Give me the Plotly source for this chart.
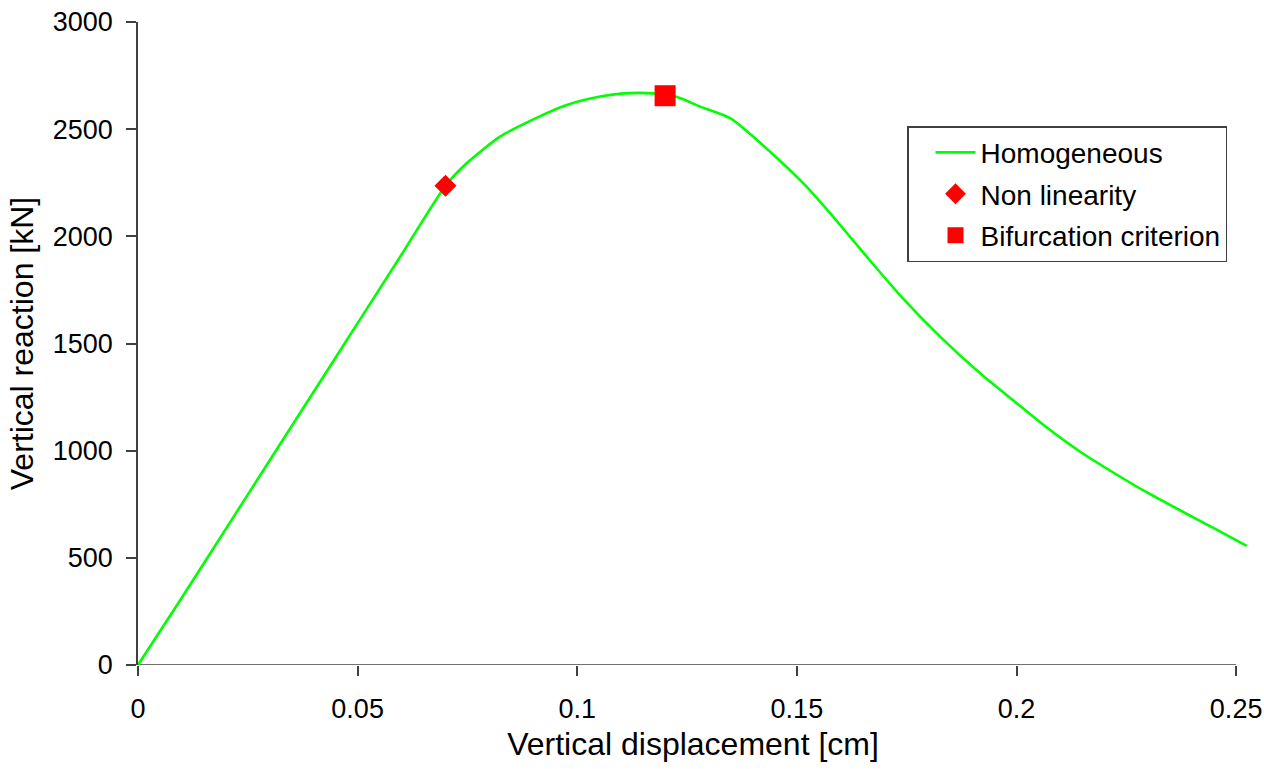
import plotly.graph_objects as go

# Homogeneous curve (vertical displacement [cm] vs vertical reaction [kN])
disp = [0.0, 0.01, 0.02, 0.03, 0.04, 0.05, 0.06, 0.07, 0.0748, 0.0824, 0.090,
        0.0976, 0.1052, 0.1105, 0.1173, 0.1227, 0.128, 0.1348, 0.1439, 0.1522,
        0.1576, 0.1659, 0.1735, 0.1826, 0.1917, 0.1993, 0.2069, 0.2145, 0.2221,
        0.2297, 0.2372, 0.2448, 0.2524]
reaction = [0, 315, 635, 955, 1275, 1595, 1915, 2236, 2341, 2465, 2546,
            2613, 2652, 2667, 2667, 2650, 2605, 2551, 2395, 2232,
            2107, 1905, 1725, 1532, 1361, 1234, 1108, 995, 897,
            805, 722, 640, 556]

# Special points
nonlin_x = [0.07]
nonlin_y = [2236]
bif_x = [0.12]
bif_y = [2656]

x_ticks = [0, 0.05, 0.1, 0.15, 0.2, 0.25]
x_ticktext = ["0", "0.05", "0.1", "0.15", "0.2", "0.25"]
y_ticks = [0, 500, 1000, 1500, 2000, 2500, 3000]
y_ticktext = ["0", "500", "1000", "1500", "2000", "2500", "3000"]

FONT = "Liberation Sans, Arial, sans-serif"
AXC = "#404040"

fig = go.Figure()
fig.add_trace(go.Scatter(x=disp, y=reaction, mode="lines", name="Homogeneous",
                         line=dict(color="#00FF00", width=2.6, shape="spline", smoothing=0.6),
                         legendgroup="a"))
fig.add_trace(go.Scatter(x=nonlin_x, y=nonlin_y, mode="markers", name="Non linearity",
                         marker=dict(symbol="diamond", color="#FF0000", size=17),
                         legendgroup="b", cliponaxis=False))
fig.add_trace(go.Scatter(x=bif_x, y=bif_y, mode="markers", name="Bifurcation criterion",
                         marker=dict(symbol="square", color="#FF0000", size=21),
                         legendgroup="c", cliponaxis=False))

# x-axis baseline ending at the last tick
fig.add_shape(type="line", xref="x", yref="y", x0=x_ticks[0], x1=x_ticks[-1],
              y0=y_ticks[0], y1=y_ticks[0], line=dict(color=AXC, width=1.5), layer="below")

fig.update_layout(
    width=1264, height=769,
    margin=dict(l=138, r=16, t=22, b=104, autoexpand=False),
    paper_bgcolor="white", plot_bgcolor="white",
    font=dict(family=FONT, size=27, color="black"),
    legend=dict(x=0.6928, y=0.838, xanchor="left", yanchor="top",
                bordercolor=AXC, borderwidth=1.5, bgcolor="white",
                font=dict(size=28), tracegroupgap=2, traceorder="grouped",
                itemwidth=40, indentation=22),
    xaxis=dict(range=[0, 0.2527], tickmode="array", tickvals=x_ticks, ticktext=x_ticktext,
               showgrid=False, zeroline=False, showline=False, automargin=False,
               ticks="outside", ticklen=10, tickwidth=1.5, tickcolor=AXC,
               ticklabelstandoff=10,
               title=dict(text="Vertical displacement [cm]", standoff=9)),
    yaxis=dict(range=[0, 3000], tickmode="array", tickvals=y_ticks, ticktext=y_ticktext,
               showgrid=False, zeroline=False, showline=True, linecolor=AXC, linewidth=1.5,
               automargin=False,
               ticks="outside", ticklen=10, tickwidth=1.5, tickcolor=AXC,
               ticklabelstandoff=8,
               title=dict(text="Vertical reaction [kN]", standoff=10)),
)

fig.write_html("out.html")
